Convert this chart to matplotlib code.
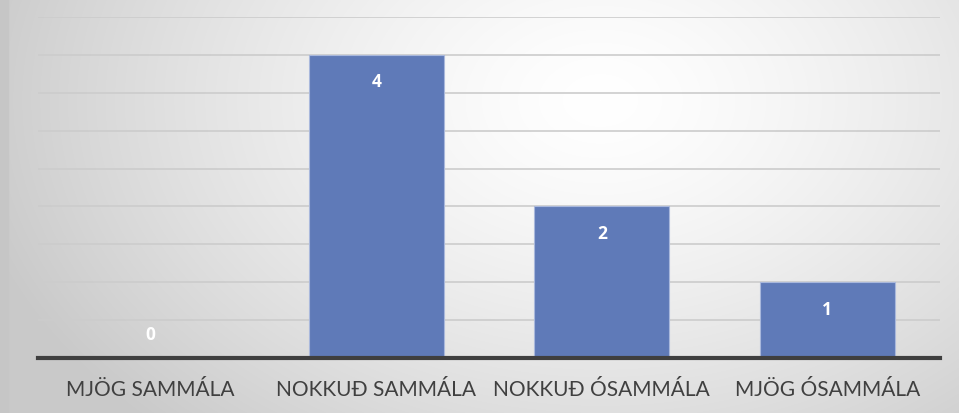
import numpy as np
import matplotlib.pyplot as plt

categories = ['MJÖG SAMMÁLA', 'NOKKUÐ SAMMÁLA', 'NOKKUÐ ÓSAMMÁLA', 'MJÖG ÓSAMMÁLA']
values = [0, 4, 2, 1]

W, H = 959, 413
fig = plt.figure(figsize=(W / 100, H / 100), dpi=100)

# radial gradient background
bg = fig.add_axes([0, 0, 1, 1])
yy, xx = np.mgrid[0:H, 0:W]
r = np.sqrt(((xx - 600) / 600.0) ** 2 + ((yy - 100) / 420.0) ** 2)
shade = np.clip(1.0 - 0.19 * r ** 1.4, 0.79, 1.0)
img = np.dstack([shade, shade, shade])
bg.imshow(img, aspect='auto', extent=[0, W, H, 0])
bg.fill_between([0, 8], 0, H, color='#c6c6c6')
bg.set_xlim(0, W)
bg.set_ylim(H, 0)
bg.axis('off')

ax = fig.add_axes([38 / W, 55 / H, (940 - 38) / W, (358 - 17) / H])
ax.patch.set_alpha(0)
x = np.arange(len(categories))
bars = ax.bar(x, values, width=0.6, color='#5f7ab8', edgecolor='#a9b8dc', linewidth=0.8, zorder=3)
for xi, v in zip(x, values):
    ypos = v - 0.36 if v > 0 else 0.30
    ax.text(xi, ypos, str(v), ha='center', va='center', color='white',
            fontsize=12.5, fontweight='bold', family='Open Sans', zorder=4)

ax.set_xlim(-0.5, len(categories) - 0.5)
ax.set_ylim(0, 4.5)
ax.set_yticks(np.arange(0.5, 4.51, 0.5))
ax.yaxis.grid(True, color='#cccccc', linewidth=1.2, zorder=0)
ax.tick_params(axis='y', left=False, labelleft=False)
ax.set_xticks(x)
ax.set_xticklabels(categories, fontsize=15, color='#404040', family='Lato')
ax.tick_params(axis='x', length=0, pad=27)
for lab in ax.get_xticklabels():
    lab.set_verticalalignment('baseline')
for s in ['top', 'right', 'left']:
    ax.spines[s].set_visible(False)
ax.spines['bottom'].set_color('#3f3f3f')
ax.spines['bottom'].set_linewidth(3)
ax.spines['bottom'].set_zorder(5)

fig.savefig('out.png', dpi=100)
